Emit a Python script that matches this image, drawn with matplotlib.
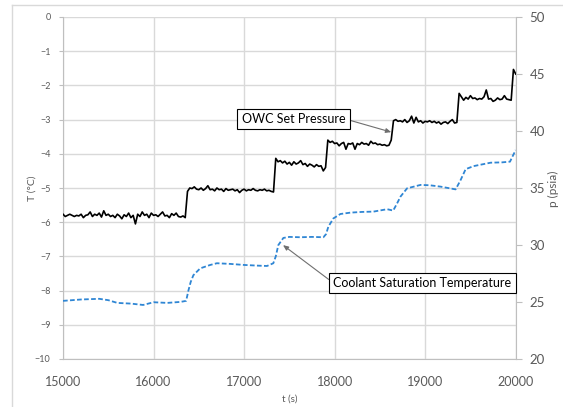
import numpy as np
import matplotlib
matplotlib.use("Agg")
import matplotlib.pyplot as plt
from matplotlib.lines import Line2D

plt.rcParams['font.family'] = ['Lato', 'DejaVu Sans']

# ---- data ----
# OWC set pressure (psia, right axis), sampled every 25 s
t_p = np.arange(15000, 20001, 25)
p_owc = [
    32.7, 32.5, 32.6, 32.7, 32.6, 32.5, 32.6, 32.55, 32.7, 32.4,
    32.6, 32.65, 32.9, 32.5, 32.7, 32.6, 32.8, 32.45, 33.0, 32.6,
    32.7, 32.5, 32.6, 32.4, 32.7, 32.55, 32.3, 32.65, 32.5, 32.8,
    32.4, 32.6, 31.85, 32.7, 32.5, 32.9, 32.6, 32.7, 32.4, 32.8,
    32.6, 32.65, 32.5, 32.7, 32.9, 32.55, 32.6, 32.4, 32.75, 32.6,
    32.8, 32.5, 32.45, 32.55, 32.4,
    34.7, 35.0, 34.95, 35.1, 34.9, 34.85, 35.0, 34.8, 34.95, 35.2,
    34.85, 34.9, 34.75, 35.0, 34.85, 34.9, 34.7, 34.95, 34.8, 34.85,
    34.9, 34.75, 34.85, 34.6, 34.8, 34.9, 34.75, 34.85, 34.8, 34.95,
    34.8, 34.75, 34.85, 34.8, 34.9, 34.75, 34.8, 34.7, 34.65,
    37.6, 37.3, 37.4, 37.2, 37.35, 37.1, 37.25, 37.0, 37.3, 37.1,
    37.2, 37.4, 37.05, 37.15, 36.9, 37.1, 37.0, 36.85, 37.05, 36.9,
    36.95, 36.5, 36.8,
    39.2, 39.0, 39.1, 38.9, 38.95, 38.7, 38.9, 39.0, 38.4, 38.9,
    38.85, 38.95, 38.4, 38.9, 38.8, 39.0, 38.85, 38.9, 38.75, 39.1,
    38.9, 38.95, 38.8, 38.85, 38.75, 38.8, 38.7, 38.75, 39.2,
    40.9, 41.0, 40.85, 40.9, 40.8, 41.0, 40.75, 40.9, 41.3, 40.7,
    41.2, 40.8, 40.9, 40.7, 40.85, 40.8, 40.9, 40.75, 40.85, 40.7,
    40.8, 40.6, 40.75, 40.8, 40.65, 40.85, 41.0, 40.7, 40.75,
    43.3, 43.0, 42.7, 42.95, 42.8, 43.1, 42.85, 42.9, 42.75, 42.85,
    42.8, 43.0, 43.6, 42.8, 42.85, 42.6, 42.7, 42.9, 42.75, 42.8,
    43.1, 42.8, 42.75, 42.7,
    45.4, 45.0,
]

# Coolant saturation temperature (deg C, left axis)
t_sat = [15000, 15200, 15400, 15500, 15600, 15750, 15885, 16000, 16150, 16300,
         16360, 16385, 16410, 16440, 16515, 16626, 16700, 16850, 17000, 17150,
         17253, 17323, 17350, 17378, 17434, 17500, 17620, 17750, 17876, 17905,
         17931, 17986, 18064, 18175, 18300, 18430, 18580, 18647, 18690, 18728,
         18800, 18949, 19050, 19170, 19336, 19365, 19391, 19447, 19535, 19723,
         19850, 19937, 19970, 20000]
T_sat = [-8.30, -8.26, -8.24, -8.28, -8.36, -8.38, -8.42, -8.34, -8.36, -8.33,
         -8.30, -8.00, -7.75, -7.55, -7.35, -7.25, -7.20, -7.22, -7.25, -7.27,
         -7.28, -7.20, -7.00, -6.67, -6.46, -6.43, -6.44, -6.43, -6.44, -6.35,
         -6.13, -5.89, -5.76, -5.72, -5.70, -5.69, -5.62, -5.66, -5.45, -5.25,
         -5.01, -4.91, -4.92, -4.96, -5.04, -4.90, -4.77, -4.45, -4.36, -4.26,
         -4.25, -4.23, -4.05, -3.89]

x_ticks = [15000, 16000, 17000, 18000, 19000, 20000]
y_left_ticks = list(range(-10, 1))
y_right_ticks = [20, 25, 30, 35, 40, 45, 50]

# ---- figure ----
W, H = 563, 407
fig = plt.figure(figsize=(W / 100, H / 100), dpi=100)
txt = '#595959'
grid_c = '#d9d9d9'
spine_c = '#bfbfbf'

# chart area border
fig.add_artist(Line2D([12 / W, 12 / W], [0, 1 - 5 / H], color=grid_c, lw=1.0))
fig.add_artist(Line2D([12 / W, 1], [1 - 5 / H, 1 - 5 / H], color=grid_c, lw=1.0))

ax = fig.add_axes([63 / W, 1 - 359 / H, (515.7 - 63) / W, (359 - 17) / H])
ax2 = ax.twinx()

ax.set_xlim(15000, 20000)
ax.set_ylim(-10, 0)
ax2.set_ylim(20, 50)

ax.set_xticks(x_ticks)
ax.set_yticks(y_left_ticks)
ax2.set_yticks(y_right_ticks)
ax.set_xticklabels([str(v) for v in x_ticks])

ax.grid(True, color=grid_c, lw=1.0)
ax.set_axisbelow(True)

for a in (ax, ax2):
    for s in a.spines.values():
        s.set_visible(False)
ax.spines['left'].set_visible(True)
ax.spines['left'].set_color(spine_c)
ax.spines['bottom'].set_visible(True)
ax.spines['bottom'].set_color(spine_c)
ax2.spines['right'].set_visible(True)
ax2.spines['right'].set_color(spine_c)

ax.tick_params(axis='y', labelsize=6.5, colors=txt, length=3, color=spine_c, pad=6)
ax.tick_params(axis='x', labelsize=9, colors=txt, length=0, pad=12)
ax2.tick_params(axis='y', labelsize=9.5, colors=txt, length=4, color=spine_c, pad=6)

ax.set_xlabel('t (s)', fontsize=7, color=txt, labelpad=5)
fig.text(32 / W, 1 - 188 / H, 'T (°C)', rotation=90, ha='center', va='center',
         fontsize=7.5, color=txt)
fig.text(553 / W, 1 - 189 / H, 'p (psia)', rotation=90, ha='center', va='center',
         fontsize=8.5, color=txt)

ax.plot(t_sat, T_sat, color='#2F86D4', lw=1.3, linestyle=(0, (2.6, 1.3)), zorder=3)
ax2.plot(t_p, p_owc, color='black', lw=1.2, zorder=4)

# annotations
arrow_kw = dict(arrowstyle='-|>,head_length=0.35,head_width=0.15',
                color='#6f6f6f', lw=0.8, shrinkA=0, shrinkB=0)
ax2.annotate('OWC Set Pressure', xy=(18625, 39.9), xycoords='data',
             xytext=(293.5 / W, 1 - 119 / H), textcoords='figure fraction',
             ha='center', va='center', fontsize=9, color='black',
             bbox=dict(boxstyle='square,pad=0.35', fc='white', ec='black', lw=0.8),
             arrowprops=dict(relpos=(1, 0.5), **arrow_kw),
             zorder=6)
ax2.annotate('Coolant Saturation Temperature', xy=(17430, -6.67 * 3 + 50), xycoords='data',
             xytext=(422.5 / W, 1 - 283 / H), textcoords='figure fraction',
             ha='center', va='center', fontsize=9, color='black',
             bbox=dict(boxstyle='square,pad=0.35', fc='white', ec='black', lw=0.8),
             arrowprops=dict(relpos=(0, 0.5), **arrow_kw),
             zorder=6)

fig.savefig('out.png', dpi=100)
